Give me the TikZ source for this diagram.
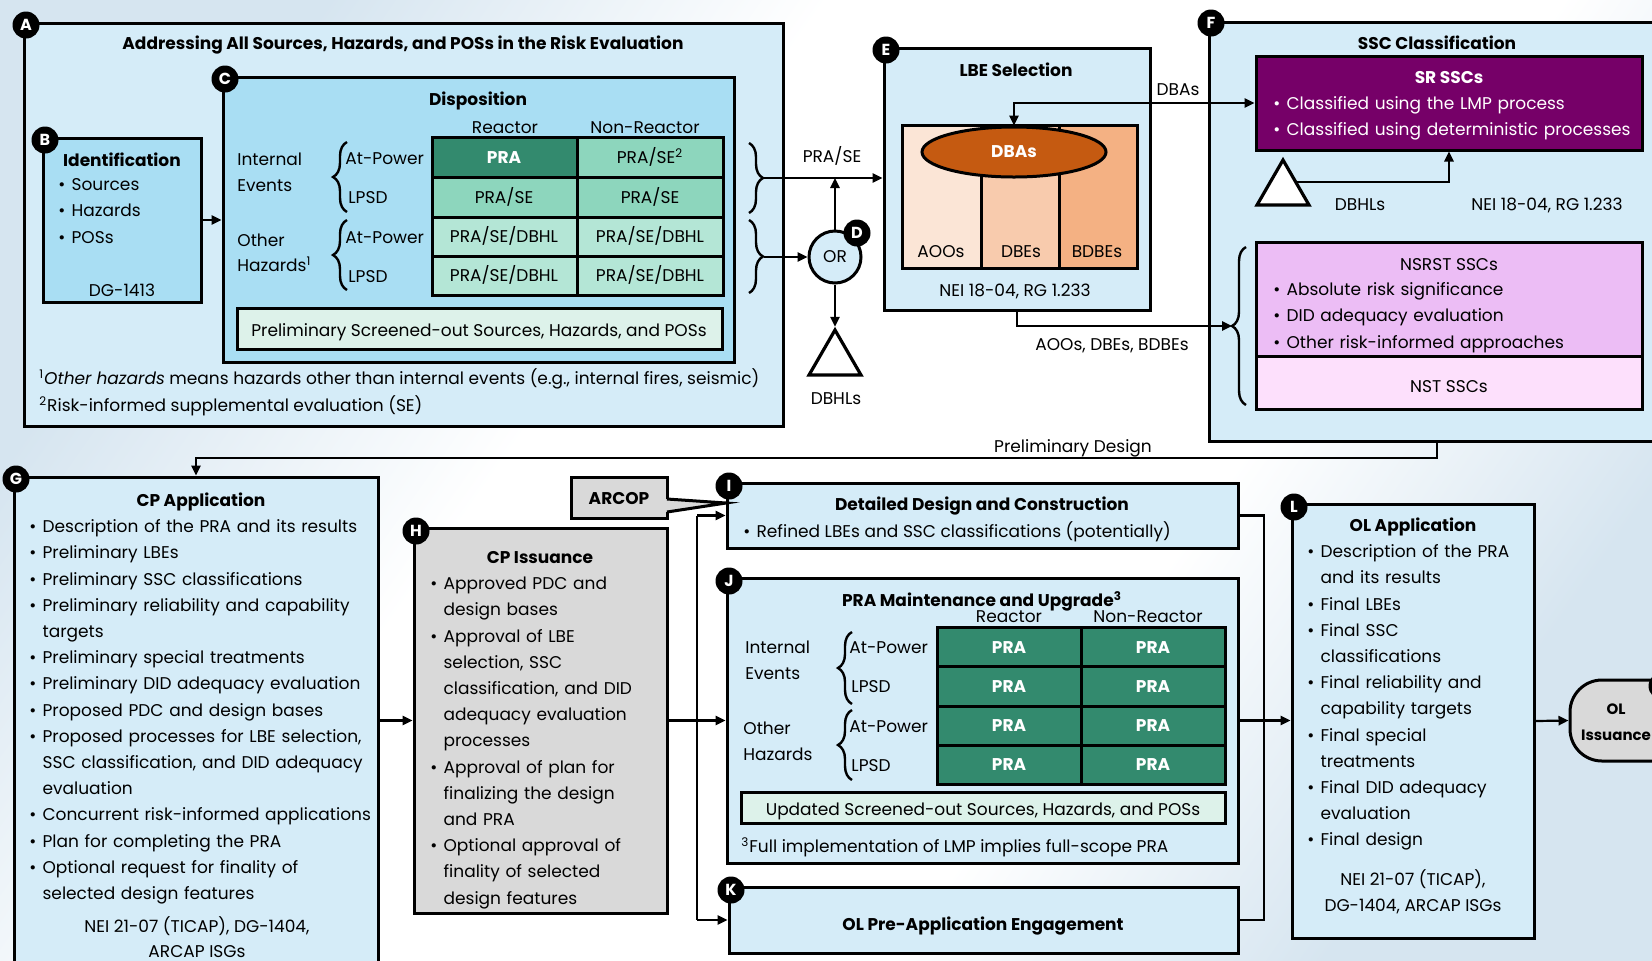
\documentclass[tikz,border=0pt]{standalone}
\usepackage{fontspec}
\setmainfont{Poppins}
\usetikzlibrary{arrows.meta,decorations.pathreplacing,shapes.geometric,fit}

\definecolor{paleblue}{HTML}{D5ECF8}
\definecolor{midblue}{HTML}{A9DEF3}
\definecolor{dkgreen}{HTML}{338A6E}
\definecolor{mint}{HTML}{8DD6BD}
\definecolor{ltmint}{HTML}{B4E6D6}
\definecolor{palemint}{HTML}{DDF2EA}
\definecolor{boxgray}{HTML}{D9D9D9}
\definecolor{srpurple}{HTML}{760068}
\definecolor{nsrst}{HTML}{ECBDF5}
\definecolor{nst}{HTML}{FDE0FC}
\definecolor{dbaorange}{HTML}{C55A11}
\definecolor{peachA}{HTML}{FBE5D6}
\definecolor{peachB}{HTML}{F8CBAD}
\definecolor{peachC}{HTML}{F4B183}
\definecolor{bgtint}{HTML}{D6E5F0}

\pgfdeclarehorizontalshading{bgshade}{100bp}{color(0bp)=(bgtint); color(25bp)=(bgtint); color(40bp)=(white); color(62bp)=(white); color(75bp)=(bgtint); color(100bp)=(bgtint)}

\newcommand\bodyfont{\fontsize{8.5}{13.1}\selectfont}
\newlength\bulw \setlength\bulw{6.6pt}
% bullet item with hanging indent for wrapped lines
\newcommand\bitem[1]{\par\noindent\hangindent=\bulw\hangafter=1\makebox[\bulw][l]{\strut\textbullet}#1\par}

\begin{document}
\begin{tikzpicture}[x=0.5pt, y=-0.5pt,
  box/.style={draw, line width=1.5pt, inner sep=0pt},
  tag/.style={circle, fill=black, text=white, font=\fontsize{8}{8}\selectfont\bfseries, inner sep=0pt, minimum size=13.5pt},
  lbl/.style={inner sep=0pt, font=\bodyfont},
  ttl/.style={inner sep=0pt, font=\bodyfont\bfseries, anchor=base},
  para/.style={inner sep=0pt, anchor=north west, text width=#1, align=left, font=\bodyfont},
  conn/.style={line width=1.1pt},
  arr/.style={conn, -{Triangle[length=5pt,width=4.6pt]}},
  dbl/.style={conn, {Triangle[length=5pt,width=4.6pt]}-{Triangle[length=5pt,width=4.6pt]}},
  cell/.style={draw, line width=1.5pt, inner sep=0pt},
  hot/.style={cell, fill=dkgreen},
  celltxt/.style={inner sep=0pt, anchor=base, font=\bodyfont},
  hottxt/.style={celltxt, text=white, font=\bodyfont\bfseries},
  brL/.style={decorate, decoration={brace, amplitude=7pt}, line width=1.2pt},
  tri/.style={regular polygon, regular polygon sides=3, draw, line width=1.6pt, fill=white, inner sep=0pt, minimum size=30pt},
]
\useasboundingbox (0,0) rectangle (1652,960);
\clip (0,0) rectangle (1652,960);
\shade[shading=bgshade, shading angle=-35] (0,0) rectangle (1652,960);

% ---------- A: sources, hazards, POSs ----------
\node[box, fill=paleblue, fit={(24,23) (783,426)}] (A) {};
\node[ttl] (At) at (403,49) {Addressing All Sources, Hazards, and POSs in the Risk Evaluation};

% B: identification
\node[box, fill=midblue, fit={(43,138) (201,302)}] (B) {};
\node[ttl] (Bt) at (122,166) {Identification};
\node[para=70pt] (Bl) at (58,164) {\bitem{Sources}\bitem{Hazards}\bitem{POSs}};
\node[lbl, anchor=base] (Br) at (122,296) {DG-1413};

% C: disposition
\node[box, fill=midblue, fit={(223,77) (734,362)}] (C) {};
\node[ttl] (Ct) at (478,105) {Disposition};
\node[lbl, anchor=base] (Ch1) at (505,133) {Reactor};
\node[lbl, anchor=base] (Ch2) at (645,133) {Non-Reactor};
\node[hot, fit={(432,137) (577,177)}] (c11) {};
\node[cell, fill=mint, fit={(577,137) (723,177)}] (c12) {};
\node[cell, fill=mint, fit={(432,177) (577,217)}] (c21) {};
\node[cell, fill=mint, fit={(577,177) (723,217)}] (c22) {};
\node[cell, fill=ltmint, fit={(432,217) (577,256)}] (c31) {};
\node[cell, fill=ltmint, fit={(577,217) (723,256)}] (c32) {};
\node[cell, fill=ltmint, fit={(432,256) (577,295)}] (c41) {};
\node[cell, fill=ltmint, fit={(577,256) (723,295)}] (c42) {};
\node[hottxt] (c11t) at (504,163) {PRA};
\node[celltxt] (c12t) at (650,163) {PRA/SE\textsuperscript{2}};
\node[celltxt] (c21t) at (504,203) {PRA/SE};
\node[celltxt] (c22t) at (650,203) {PRA/SE};
\node[celltxt] (c31t) at (504,242) {PRA/SE/DBHL};
\node[celltxt] (c32t) at (650,242) {PRA/SE/DBHL};
\node[celltxt] (c41t) at (504,281) {PRA/SE/DBHL};
\node[celltxt] (c42t) at (650,281) {PRA/SE/DBHL};
\node[lbl, anchor=base west] (Cie1) at (237,165) {Internal};
\node[lbl, anchor=base west] (Cie2) at (237,191) {Events};
\node[lbl, anchor=base west] (Coh1) at (237,246) {Other};
\node[lbl, anchor=base west] (Coh2) at (237,271) {Hazards\textsuperscript{1}};
\node[lbl, anchor=base west] (Cr1) at (345,164) {At-Power};
\node[lbl, anchor=base west] (Cr2) at (348,203) {LPSD};
\node[lbl, anchor=base west] (Cr3) at (345,243) {At-Power};
\node[lbl, anchor=base west] (Cr4) at (348,282) {LPSD};
\draw[brL] (347,212) -- (347,142);
\draw[brL] (347,290) -- (347,220);
\node[box, fill=palemint, fit={(237,308) (722,349)}] (Cs) {};
\node[lbl, anchor=base] (Cst) at (479,336) {Preliminary Screened-out Sources, Hazards, and POSs};
\node[lbl, anchor=base west] (fn1) at (39,384) {\textsuperscript{1}\textit{Other hazards} means hazards other than internal events (e.g., internal fires, seismic)};
\node[lbl, anchor=base west] (fn2) at (39,411) {\textsuperscript{2}Risk-informed supplemental evaluation (SE)};
\draw[brL] (749,143) -- (749,213);
\draw[brL] (749,220) -- (749,293);
\coordinate (brU) at (764,178);
\coordinate (brD) at (764,257);
\draw[arr] (B.east) -- (B.east -| C.west);

% ---------- E: LBE selection ----------
\node[box, fill=paleblue, fit={(884,48) (1150,310)}] (E) {};
\node[ttl] (Et) at (1016,76) {LBE Selection};
\node[box, fill=peachA, fit={(902,125) (981,268)}] (E1) {};
\node[box, fill=peachB, fit={(981,125) (1059,268)}] (E2) {};
\node[box, fill=peachC, fit={(1059,125) (1137,268)}] (E3) {};
\node[ellipse, draw, line width=1.5pt, fill=dbaorange, minimum width=92pt, minimum height=25pt, inner sep=0pt, text=white, font=\bodyfont\bfseries] (DBA) at (1014,152) {DBAs};
\node[lbl, anchor=base] (E1t) at (941,257) {AOOs};
\node[lbl, anchor=base] (E2t) at (1021,257) {DBEs};
\node[lbl, anchor=base] (E3t) at (1097,257) {BDBEs};
\node[lbl, anchor=base] (Er) at (1015,296) {NEI 18-04, RG 1.233};

% ---------- D: OR gate ----------
\node[circle, draw, line width=1.5pt, fill=paleblue, minimum size=26pt, inner sep=0pt, font=\bodyfont] (OR) at (835,257) {OR};
\node[tri] (T1) at (835,360) {};
\node[lbl, anchor=base] (T1l) at (836,404) {DBHLs};
\node[lbl, anchor=base] (PRASE) at (832,162) {PRA/SE};
\draw[arr] (brU) -- (brU -| E.west);
\draw[arr] (brD) -- (OR.west);
\draw[arr] (OR.north) -- (OR.north |- brU);
\draw[arr] (OR.south) -- (T1.north);

% ---------- F: SSC classification ----------
\node[box, fill=paleblue, fit={(1209,22) (1665,441)}] (F) {};
\node[ttl] (Ft) at (1437,49) {SSC Classification};
\node[box, fill=srpurple, fit={(1256,56) (1642,150)}] (SR) {};
\node[ttl, text=white] (SRt) at (1449,83) {SR SSCs};
\node[para=200pt, text=white] (SRl) at (1273,83) {\bitem{Classified using the LMP process}\bitem{Classified using deterministic processes}};
\node[tri] (T2) at (1283,190) {};
\node[lbl, anchor=base] (T2l) at (1360,210) {DBHLs};
\node[lbl, anchor=base] (Fr) at (1547,210) {NEI 18-04, RG 1.233};
\node[box, fill=nsrst, fit={(1256,242) (1642,356)}] (NS) {};
\node[lbl, anchor=base] (NSt) at (1449,270) {NSRST SSCs};
\node[para=200pt] (NSl) at (1273,269) {\bitem{Absolute risk significance}\bitem{DID adequacy evaluation}\bitem{Other risk-informed approaches}};
\node[box, fill=nst, fit={(1256,356) (1642,409)}] (NT) {};
\node[lbl, anchor=base] (NTt) at (1449,392) {NST SSCs};
\draw[brL] (1246,405) -- (1246,247);
\coordinate (fb) at (1232,326);
\coordinate (dbaY) at (1100,103);
\draw[dbl] (DBA.north) |- (dbaY -| SR.west);
\node[lbl, anchor=base] (DBAl) at (1178,95) {DBAs};
\draw[arr] (T2.side 3) -| (SR.south);
\draw[arr] (E.south) |- (fb);
\node[lbl, anchor=base] (AODl) at (1112,350) {AOOs, DBEs, BDBEs};

% ---------- G: CP application ----------
\node[box, fill=paleblue, fit={(14,477) (378,975)}] (G) {};
\node[ttl] (Gt) at (201,506) {CP Application};
\node[para=200pt] (Gl) at (29,506) {%
\bitem{Description of the PRA and its results}
\bitem{Preliminary LBEs}
\bitem{Preliminary SSC classifications}
\bitem{Preliminary reliability and capability\newline targets}
\bitem{Preliminary special treatments}
\bitem{Preliminary DID adequacy evaluation}
\bitem{Proposed PDC and design bases}
\bitem{Proposed processes for LBE selection,\newline SSC classification, and DID adequacy\newline evaluation}
\bitem{Concurrent risk-informed applications}
\bitem{Plan for completing the PRA}
\bitem{Optional request for finality of\newline selected design features}};
\node[lbl, anchor=base] (Gr1) at (197,932) {NEI 21-07 (TICAP), DG-1404,};
\node[lbl, anchor=base] (Gr2) at (197,957) {ARCAP ISGs};
\coordinate (pdy) at (1000,458);
\draw[arr] (F.south) -- (F.south |- pdy) -| (G.north);
\node[lbl, anchor=base] (PDl) at (1073,452) {Preliminary Design};

% ---------- H: CP issuance ----------
\node[box, fill=boxgray, fit={(414,528) (667,913)}] (H) {};
\node[ttl] (Ht) at (540,563) {CP Issuance};
\node[para=150pt] (Hl) at (430,563) {%
\bitem{Approved PDC and\newline design bases}
\bitem{Approval of LBE\newline selection, SSC\newline classification, and DID\newline adequacy evaluation\newline processes}
\bitem{Approval of plan for\newline finalizing the design\newline and PRA}
\bitem{Optional approval of\newline finality of selected\newline design features}};
\draw[arr] (G.east |- H.west) -- (H.west);

% ARCOP callout
\node[box, fill=boxgray, fit={(571,477) (667,518)}] (ARC) {};
\node[ttl] (ARCt) at (619,504) {ARCOP};

% ---------- I, J, K ----------
\node[box, fill=paleblue, fit={(727,483) (1238,548)}] (I) {};
\node[ttl] (It) at (982,510) {Detailed Design and Construction};
\node[lbl, anchor=base west] (Il) at (743,537) {\makebox[\bulw][l]{\textbullet}Refined LBEs and SSC classifications (potentially)};

\coordinate (tA) at (667,499);
\coordinate (tB) at (667,512);
\coordinate (tT) at (726,503);
\coordinate (tA0) at (663,500);
\coordinate (tB0) at (663,511);
\fill[boxgray] (tA0) -- (tA) -- (tT) -- (tB) -- (tB0) -- cycle;
\draw[line width=1.5pt, line join=miter] (tA) -- (tT) -- (tB);

\node[box, fill=paleblue, fit={(727,578) (1238,863)}] (J) {};
\node[ttl] (Jt) at (982,606) {PRA Maintenance and Upgrade\textsuperscript{3}};
\node[lbl, anchor=base] (Jh1) at (1009,622) {Reactor};
\node[lbl, anchor=base] (Jh2) at (1148,622) {Non-Reactor};
\node[hot, fit={(937,627) (1081,666)}] (j11) {};
\node[hot, fit={(1081,627) (1225,666)}] (j12) {};
\node[hot, fit={(937,666) (1081,706)}] (j21) {};
\node[hot, fit={(1081,666) (1225,706)}] (j22) {};
\node[hot, fit={(937,706) (1081,745)}] (j31) {};
\node[hot, fit={(1081,706) (1225,745)}] (j32) {};
\node[hot, fit={(937,745) (1081,784)}] (j41) {};
\node[hot, fit={(1081,745) (1225,784)}] (j42) {};
\node[hottxt] (j11t) at (1009,653) {PRA};
\node[hottxt] (j12t) at (1153,653) {PRA};
\node[hottxt] (j21t) at (1009,692) {PRA};
\node[hottxt] (j22t) at (1153,692) {PRA};
\node[hottxt] (j31t) at (1009,731) {PRA};
\node[hottxt] (j32t) at (1153,731) {PRA};
\node[hottxt] (j41t) at (1009,770) {PRA};
\node[hottxt] (j42t) at (1153,770) {PRA};
\node[lbl, anchor=base west] (Jie1) at (745,653) {Internal};
\node[lbl, anchor=base west] (Jie2) at (745,679) {Events};
\node[lbl, anchor=base west] (Joh1) at (743,734) {Other};
\node[lbl, anchor=base west] (Joh2) at (743,760) {Hazards};
\node[lbl, anchor=base west] (Jr1) at (849,653) {At-Power};
\node[lbl, anchor=base west] (Jr2) at (851,692) {LPSD};
\node[lbl, anchor=base west] (Jr3) at (849,732) {At-Power};
\node[lbl, anchor=base west] (Jr4) at (851,771) {LPSD};
\draw[brL] (852,704) -- (852,632);
\draw[brL] (852,780) -- (852,710);
\node[box, fill=palemint, fit={(741,792) (1225,823)}] (Js) {};
\node[lbl, anchor=base] (Jst) at (983,815) {Updated Screened-out Sources, Hazards, and POSs};
\node[lbl, anchor=base west] (fn3) at (741,852) {\textsuperscript{3}Full implementation of LMP implies full-scope PRA};

\node[box, fill=paleblue, fit={(729,887) (1238,953)}] (K) {};
\node[ttl] (Kt) at (983,930) {OL Pre-Application Engagement};

% branch from CP issuance
\coordinate (busL) at (697,720);
\draw[arr] (H.east) -- (J.west);
\draw[conn] (busL |- I.west) -- (busL |- K.west);
\draw[arr] (busL |- I.west) -- (I.west);
\draw[arr] (busL |- K.west) -- (K.west);

% ---------- L: OL application ----------
\node[box, fill=paleblue, fit={(1292,504) (1534,938)}] (L) {};
\node[ttl] (Lt) at (1413,531) {OL Application};
\node[para=140pt] (Ll) at (1307,531) {%
\bitem{Description of the PRA\newline and its results}
\bitem{Final LBEs}
\bitem{Final SSC\newline classifications}
\bitem{Final reliability and\newline capability targets}
\bitem{Final special\newline treatments}
\bitem{Final DID adequacy\newline evaluation}
\bitem{Final design}};
\node[lbl, anchor=base] (Lr1) at (1413,885) {NEI 21-07 (TICAP),};
\node[lbl, anchor=base] (Lr2) at (1413,911) {DG-1404, ARCAP ISGs};

% merge into OL application
\coordinate (busR) at (1264,720);
\draw[conn] (I.east) -- (I.east -| busR) -- (K.east -| busR) -- (K.east);
\draw[arr] (J.east) -- (L.west |- J.east);

% ---------- OL issuance ----------
\node[box, fill=boxgray, rounded corners=16pt, fit={(1570,680) (1720,761)}] (OL) {};
\node[ttl, font=\fontsize{7.5}{10}\selectfont\bfseries] (OLt1) at (1616,714) {OL};
\node[ttl, font=\fontsize{7.5}{10}\selectfont\bfseries] (OLt2) at (1616,740) {Issuance};
\draw[arr] (L.east) -- (OL.west);

% ---------- letter tags ----------
\node[tag] (tagA) at (26,25) {A};
\node[tag] (tagB) at (45,140) {B};
\node[tag] (tagC) at (225,79) {C};
\node[tag] (tagD) at (857,233) {D};
\node[tag] (tagE) at (886,50) {E};
\node[tag] (tagF) at (1211,23) {F};
\node[tag] (tagG) at (16,479) {G};
\node[tag] (tagH) at (416,531) {H};
\node[tag] (tagI) at (729,486) {I};
\node[tag] (tagJ) at (729,581) {J};
\node[tag] (tagK) at (731,890) {K};
\node[tag] (tagL) at (1294,507) {L};
\node[tag] (tagM) at (1662,686) {};
\end{tikzpicture}
\end{document}
